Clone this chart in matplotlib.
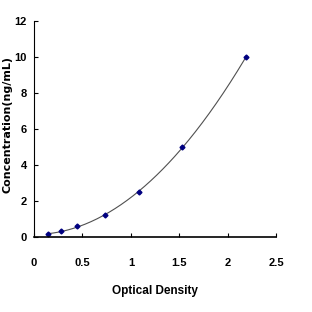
import numpy as np
import matplotlib
matplotlib.use("Agg")
import matplotlib.pyplot as plt

od = [0.148, 0.279, 0.444, 0.737, 1.088, 1.529, 2.19]
conc = [0.156, 0.312, 0.625, 1.25, 2.5, 5, 10]
xticks = [0, 0.5, 1, 1.5, 2, 2.5]
xlabels = ["0", "0.5", "1", "1.5", "2", "2.5"]
yticks = [0, 2, 4, 6, 8, 10, 12]

fig = plt.figure(figsize=(3.12, 3.12), dpi=100)
ax = fig.add_axes([0.109, 0.24, 0.776, 0.693])

# smooth fitted curve through the standards
coef = np.polyfit(od, conc, 3)
xs = np.linspace(od[0], od[-1], 200)
ax.plot(xs, np.polyval(coef, xs), color="#505050", lw=0.8)
ax.plot(od, conc, linestyle="none", marker="D", ms=2.5, color="#000080")

ax.set_xlim(0, 2.5)
ax.set_ylim(0, 12)
ax.set_xticks(xticks)
ax.set_xticklabels(xlabels)
ax.set_yticks(yticks)
for s in ["top", "right"]:
    ax.spines[s].set_visible(False)
ax.spines["left"].set_linewidth(0.8)
ax.spines["bottom"].set_linewidth(1.2)
ax.tick_params(direction="in", length=3, width=0.8)
ax.tick_params(axis="x", pad=15)
ax.tick_params(axis="y", pad=5)

fam = ["Liberation Sans", "DejaVu Sans"]
for lab in ax.get_xticklabels() + ax.get_yticklabels():
    lab.set_family(fam)
    lab.set_fontweight("bold")
    lab.set_fontsize(8)

ax.set_xlabel("Optical Density", family=fam, fontweight="bold", fontsize=8.5, labelpad=12)
ax.set_ylabel("Concentration(ng/mL)", family="DejaVu Sans", fontweight="bold", fontsize=8)
ax.yaxis.set_label_coords(-0.09, 0.52)

fig.savefig("out.png", dpi=100)
